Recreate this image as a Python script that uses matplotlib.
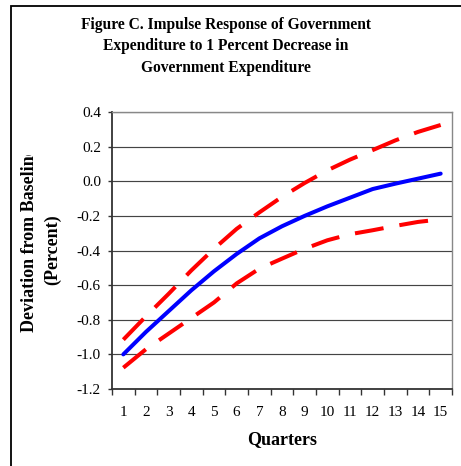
import matplotlib
matplotlib.use("Agg")
import matplotlib.pyplot as plt
from matplotlib.transforms import Bbox
from matplotlib.patches import Rectangle
from matplotlib.ticker import FixedLocator, FixedFormatter, FormatStrFormatter

plt.rcParams["font.family"] = ["Liberation Serif", "DejaVu Serif"]
plt.rcParams["axes.unicode_minus"] = False

quarters = list(range(1, 16))
response = [-1.00, -0.87, -0.75, -0.63, -0.52, -0.42, -0.33, -0.26, -0.20,
            -0.145, -0.095, -0.045, -0.014, 0.015, 0.044]
upper_band = [-0.915, -0.78, -0.65, -0.515, -0.39, -0.275, -0.18, -0.09, -0.01,
              0.063, 0.125, 0.18, 0.236, 0.285, 0.325]
lower_band = [-1.077, -0.97, -0.88, -0.79, -0.70, -0.59, -0.505, -0.447, -0.39,
              -0.341, -0.306, -0.283, -0.258, -0.235, -0.22]
y_ticks = [-1.2, -1.0, -0.8, -0.6, -0.4, -0.2, 0.0, 0.2, 0.4]

title = ("Figure C. Impulse Response of Government\n"
         "Expenditure to 1 Percent Decrease in\n"
         "Government Expenditure")

W, H = 461, 466
fig = plt.figure(figsize=(W / 100, H / 100), dpi=100)
ax = fig.add_axes([112 / W, 1 - 389 / H, 340 / W, 277 / H])

# Outer frame around the chart area
fig.patches.append(Rectangle((11 / W, -0.01), 1.2, 1 - 6 / H + 0.01,
                             transform=fig.transFigure, fill=False,
                             edgecolor="black", linewidth=1.3))

ax.plot(quarters, upper_band, color="#FF0000", lw=2.9, dashes=(7.2, 4.0),
        zorder=3)
ax.plot(quarters, lower_band, color="#FF0000", lw=2.9, dashes=(7.2, 4.0),
        zorder=3)
ax.plot(quarters, response, color="#0000FF", lw=2.9, zorder=4,
        solid_capstyle="round")

ax.set_xlim(0.5, 15.5)
ax.set_ylim(-1.2, 0.4)

# Horizontal gridlines
ax.set_yticks(y_ticks)
ax.yaxis.set_major_formatter(FormatStrFormatter("%.1f"))
ax.grid(axis="y", color="#444444", lw=0.85)
ax.set_axisbelow(True)

# Category ticks on the boundaries, labels at the centres
ax.xaxis.set_major_locator(FixedLocator([q - 0.5 for q in quarters] + [15.5]))
ax.xaxis.set_major_formatter(FixedFormatter([]))
ax.xaxis.set_minor_locator(FixedLocator(quarters))
ax.xaxis.set_minor_formatter(FixedFormatter([str(q) for q in quarters]))
ax.tick_params(axis="x", which="major", direction="out", length=4, width=1,
               color="#333333")
ax.tick_params(axis="x", which="minor", length=0, pad=12, labelsize=11)
ax.tick_params(axis="y", direction="out", length=3, width=1, color="#333333",
               pad=5, labelsize=11)

for side in ("left", "bottom"):
    ax.spines[side].set_color("#333333")
    ax.spines[side].set_linewidth(1.3)
for side in ("top", "right"):
    ax.spines[side].set_color("#888888")
    ax.spines[side].set_linewidth(1.0)

fig.text(226 / W, 1 - 17 / H, title, ha="center", va="top", fontsize=11.2,
         fontweight="bold", linespacing=1.45)

ax.set_xlabel("Quarters", fontsize=13, fontweight="bold", labelpad=9)

# Y-axis title: first line runs past the label area and is cut off at the top
ylab1 = fig.text(30 / W, 1 - 332 / H, "Deviation from Baseline",
                 rotation=90, ha="center", va="bottom", fontsize=13,
                 fontweight="bold")
ylab1.set_clip_box(Bbox([[0, 0], [W, H - 155]]))
ylab1.set_clip_on(True)
fig.text(53 / W, 1 - 250 / H, "(Percent)", rotation=90, ha="center",
         va="center", fontsize=13, fontweight="bold")

fig.savefig("out.png", dpi=100)
